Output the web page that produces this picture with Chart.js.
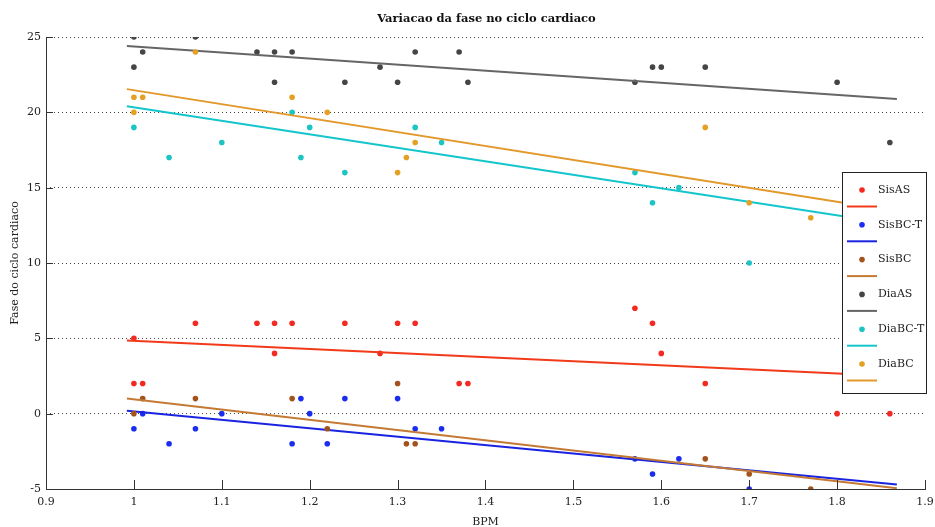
<!DOCTYPE html>
<html>
<head>
<meta charset="utf-8">
<script src="https://cdn.jsdelivr.net/npm/chart.js@4/dist/chart.umd.min.js"></script>
<style>
  html, body { margin: 0; padding: 0; background: #fff; }
  #wrap { position: relative; width: 935px; height: 527px; }
</style>
</head>
<body>
<div id="wrap"><canvas id="fase" width="935" height="527"></canvas></div>
<script>
// Dados
const seriesNames = ['SisAS', 'SisBC-T', 'SisBC', 'DiaAS', 'DiaBC-T', 'DiaBC'];

const bpmAS = [1.0, 1.0, 1.01, 1.07, 1.14, 1.16, 1.16, 1.18, 1.24, 1.28, 1.30, 1.32, 1.37, 1.38, 1.57, 1.59, 1.60, 1.65, 1.80, 1.86];
const sisAS = [5, 2, 2, 6, 6, 6, 4, 6, 6, 4, 6, 6, 2, 2, 7, 6, 4, 2, 0, 0];
const diaAS = [25, 23, 24, 25, 24, 24, 22, 24, 22, 23, 22, 24, 24, 22, 22, 23, 23, 23, 22, 18];

const bpmSisBCT = [1.0, 1.01, 1.04, 1.07, 1.10, 1.18, 1.19, 1.20, 1.22, 1.24, 1.30, 1.32, 1.35, 1.57, 1.59, 1.62, 1.70];
const sisBCT = [-1, 0, -2, -1, 0, -2, 1, 0, -2, 1, 1, -1, -1, -3, -4, -3, -5];

const bpmSisBC = [1.0, 1.01, 1.07, 1.18, 1.22, 1.30, 1.31, 1.32, 1.65, 1.70, 1.77];
const sisBC = [0, 1, 1, 1, -1, 2, -2, -2, -3, -4, -5];

const bpmDiaBCT = [1.0, 1.04, 1.10, 1.18, 1.19, 1.20, 1.24, 1.32, 1.35, 1.57, 1.59, 1.62, 1.70];
const diaBCT = [19, 17, 18, 20, 17, 19, 16, 19, 18, 16, 14, 15, 10];

const bpmDiaBC = [1.0, 1.0, 1.01, 1.07, 1.18, 1.22, 1.30, 1.31, 1.32, 1.65, 1.70, 1.77];
const diaBC = [21, 20, 21, 24, 21, 20, 16, 17, 18, 19, 14, 13];

// retas de ajuste (extremos lidos)
const fitX = [0.992, 1.868];
const fitSisAS = [4.85, 2.49];
const fitSisBCT = [0.2, -4.7];
const fitSisBC = [1.0, -4.95];
const fitDiaAS = [24.4, 20.88];
const fitDiaBCT = [20.41, 12.56];
const fitDiaBC = [21.54, 13.43];

const xTicks = [0.9, 1.0, 1.1, 1.2, 1.3, 1.4, 1.5, 1.6, 1.7, 1.8, 1.9];
const yTicks = [-5, 0, 5, 10, 15, 20, 25];

const pointColors = ['#f22a22', '#1a2cf0', '#a3521c', '#454545', '#1cc4c4', '#e3a023'];
const lineColors = ['#f23a1a', '#1a24e0', '#c47a34', '#666666', '#14c6cc', '#e2982a'];

const pointSets = [[bpmAS, sisAS], [bpmSisBCT, sisBCT], [bpmSisBC, sisBC], [bpmAS, diaAS], [bpmDiaBCT, diaBCT], [bpmDiaBC, diaBC]];
const fitSets = [fitSisAS, fitSisBCT, fitSisBC, fitDiaAS, fitDiaBCT, fitDiaBC];

const FONT = "'DejaVu Serif', serif";

function pairs(xs, ys) {
    return xs.map((x, i) => ({ x: x, y: ys[i] }));
}

const datasets = [];
seriesNames.forEach((name, i) => {
    datasets.push({
        label: name,
        data: pairs(pointSets[i][0], pointSets[i][1]),
        backgroundColor: pointColors[i],
        borderColor: pointColors[i],
        pointRadius: 2.8,
        pointBorderWidth: 0,
        showLine: false
    });
    datasets.push({
        label: name + ' fit',
        data: pairs(fitX, fitSets[i]),
        borderColor: lineColors[i],
        borderWidth: 2,
        pointRadius: 0,
        showLine: true,
        fill: false
    });
});
datasets.forEach((d, i) => { d.order = -i; });

// titulo, eixo, ticks internos e legenda
const decor = {
    id: 'decor',
    afterDraw(chart) {
        const ctx = chart.ctx;
        const xs = chart.scales.x, ys = chart.scales.y;
        const area = chart.chartArea;
        ctx.save();
        ctx.strokeStyle = '#333';
        ctx.lineWidth = 1;
        ctx.beginPath();
        const ax = Math.round(area.left) + 0.5;
        ctx.moveTo(ax, area.top);
        ctx.lineTo(ax, area.bottom);
        xTicks.forEach(v => {
            const px = Math.round(xs.getPixelForValue(v)) + 0.5;
            ctx.moveTo(px, area.bottom);
            ctx.lineTo(px, area.bottom - 9);
        });
        yTicks.forEach(v => {
            const py = Math.round(ys.getPixelForValue(v)) + 0.5;
            ctx.moveTo(area.left, py);
            ctx.lineTo(area.left + 7, py);
        });
        ctx.stroke();

        ctx.fillStyle = '#111';
        ctx.font = "bold 11.5px " + FONT;
        ctx.textAlign = 'center';
        ctx.textBaseline = 'middle';
        ctx.fillText('Variacao da fase no ciclo cardiaco', (area.left + area.right) / 2 + 1, 19);

        // legenda
        const bx = 842, by = 172, bw = 84, bh = 221;
        ctx.fillStyle = '#fff';
        ctx.fillRect(bx, by, bw, bh);
        ctx.strokeStyle = '#222';
        ctx.lineWidth = 1;
        ctx.strokeRect(bx + 0.5, by + 0.5, bw, bh);
        ctx.font = "11px " + FONT;
        ctx.textAlign = 'left';
        seriesNames.forEach((name, i) => {
            const my = 190 + i * 34.8;
            ctx.fillStyle = pointColors[i];
            ctx.beginPath();
            ctx.arc(862, my, 2.8, 0, Math.PI * 2);
            ctx.fill();
            ctx.fillStyle = '#222';
            ctx.fillText(name, 878, my);
            ctx.strokeStyle = lineColors[i];
            ctx.lineWidth = 2;
            ctx.beginPath();
            ctx.moveTo(847, my + 16.5);
            ctx.lineTo(877, my + 16.5);
            ctx.stroke();
        });
        ctx.restore();
    }
};

new Chart(document.getElementById('fase'), {
    type: 'scatter',
    data: { datasets: datasets },
    options: {
        responsive: false,
        animation: false,
        layout: { padding: { top: 37, right: 10, left: 0, bottom: 0 } },
        plugins: { legend: { display: false }, title: { display: false }, tooltip: { enabled: false } },
        scales: {
            x: {
                type: 'linear',
                min: 0.9,
                max: 1.9,
                afterFit: s => { s.height = 38; s.paddingLeft = 0; s.paddingRight = 0; },
                afterBuildTicks: s => { s.ticks = xTicks.map(v => ({ value: v })); },
                ticks: {
                    padding: 7,
                    color: '#222',
                    font: { family: FONT, size: 11 },
                    callback: v => String(+v.toFixed(1))
                },
                grid: { display: false, drawTicks: false },
                border: { display: true, color: '#333', width: 1 },
                title: { display: true, text: 'BPM', color: '#222', font: { family: FONT, size: 11 }, padding: { top: 0, bottom: -2 } }
            },
            y: {
                type: 'linear',
                min: -5,
                max: 25,
                afterFit: s => { s.width = 46; s.paddingTop = 0; s.paddingBottom = 0; },
                afterBuildTicks: s => { s.ticks = yTicks.map(v => ({ value: v })); },
                ticks: { padding: 5, color: '#222', font: { family: FONT, size: 11 } },
                grid: {
                    drawTicks: false,
                    color: ctx => ctx.tick && ctx.tick.value === -5 ? 'rgba(0,0,0,0)' : '#444',
                    lineWidth: 1
                },
                border: { display: false, dash: [1, 3] },
                title: { display: true, text: 'Fase do ciclo cardiaco', color: '#222', font: { family: FONT, size: 11 }, padding: { top: 9, bottom: 0 } }
            }
        }
    },
    plugins: [decor]
});
</script>
</body>
</html>
